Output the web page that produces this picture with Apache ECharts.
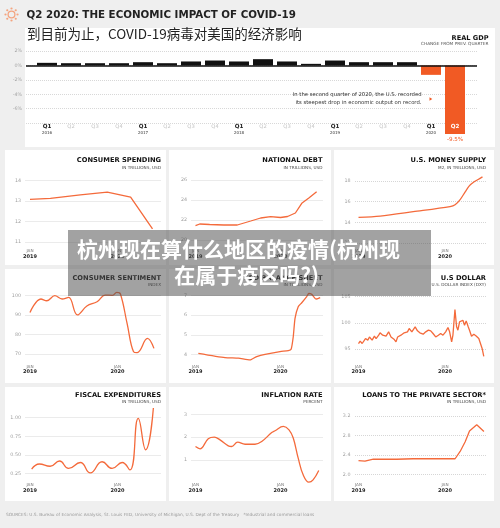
<!DOCTYPE html>
<html><head><meta charset="utf-8">
<script src="https://cdn.jsdelivr.net/npm/echarts@6/dist/echarts.min.js"></script>
<style>html,body{margin:0;padding:0;background:#efefef}#c{width:500px;height:528px}</style>
</head><body><div id="c"></div>
<script>
// ---------------- DATA ----------------
const gdpQuarters = ['Q1','Q2','Q3','Q4','Q1','Q2','Q3','Q4','Q1','Q2','Q3','Q4','Q1','Q2','Q3','Q4','Q1','Q2'];
const gdpYears    = ['2016','','','','2017','','','','2018','','','','2019','','','','2020',''];
const gdpChange   = [0.37,0.32,0.32,0.32,0.46,0.32,0.56,0.69,0.56,0.88,0.56,0.23,0.69,0.46,0.46,0.46,-1.3,-9.5];

// x = months since Jan 2019
const spendingData = [[0,13.08],[2.8,13.13],[6.9,13.3],[10.6,13.43],[13.8,13.19],[16.8,11.64]];
const debtData = [[0,21.43],[0.6,21.6],[2,21.55],[4,21.5],[5.9,21.5],[7.8,21.9],[9.2,22.2],[10.6,22.33],[12,22.25],[13,22.35],[14.1,22.7],[15,23.67],[16,24.2],[17.1,24.83]];
const moneyData = [[0,14.48],[3,14.61],[7.6,15.03],[12.7,15.52],[13.4,15.7],[14.1,16.2],[14.8,16.95],[15.4,17.55],[16.0,17.9],[16.6,18.15],[17.2,18.4]];
const sentimentData = [[0,91.4],[1.5,98.3],[2.3,97.4],[3.4,100],[4.4,98.3],[5.3,99.1],[6.5,90.1],[7.8,94.7],[9.2,96.9],[10.3,100.3],[11.3,100.2],[11.9,101.7],[12.4,100.9],[13.3,86],[14.2,71.2],[14.7,70.7],[16.1,78],[17,72.9]];
const fedData = [[0.4,4.05],[4.17,3.83],[6.05,3.8],[7.7,3.71],[8.0,3.76],[8.64,3.88],[9.82,4.0],[11.93,4.14],[13.1,4.19],[13.5,4.26],[13.8,4.9],[14.05,5.84],[14.5,6.44],[15.0,6.64],[15.7,6.95],[16.0,7.12],[16.4,7.07],[16.9,6.85],[17.1,6.83],[17.6,6.9]];
const dollarData = [[0,96.05],[0.23,96.5],[0.51,96.05],[0.74,96.37],[0.97,97.0],[1.29,96.7],[1.52,97.3],[1.89,96.7],[2.21,97.45],[2.44,97.0],[2.8,97.64],[2.99,98.09],[3.36,97.64],[3.59,97.96],[3.82,97.45],[4.18,98.28],[4.51,97.3],[4.74,97.64],[4.97,96.8],[5.2,96.37],[5.43,97.3],[5.89,97.64],[6.34,98.09],[6.8,98.28],[7.03,98.92],[7.4,98.28],[7.86,99.24],[8.18,98.47],[8.51,98.09],[8.97,97.83],[9.33,98.28],[9.7,98.6],[10.02,98.47],[10.34,97.96],[10.71,97.3],[11.08,97.64],[11.4,97.96],[11.72,97.64],[12.09,98.28],[12.41,99.1],[12.64,98.28],[12.92,96.37],[13.1,97.64],[13.38,102.55],[13.61,99.24],[13.79,98.6],[14.02,100.19],[14.25,99.87],[14.48,100.5],[14.71,99.55],[14.94,100.38],[15.22,99.24],[15.4,98.6],[15.68,97.45],[16.0,97.83],[16.32,97.5],[16.69,97.0],[16.92,96.05],[17.15,95.1],[17.38,93.6]];
const fiscalData = [[0.23,0.31],[1.29,0.38],[2.76,0.35],[4.05,0.42],[5.29,0.32],[6.9,0.40],[8.28,0.26],[9.89,0.41],[11.26,0.32],[12.64,0.40],[13.7,0.30],[14.85,0.99],[15.86,0.57],[16.92,1.13]];
const inflationData = [[0,1.59],[0.64,1.49],[1.8,1.93],[2.66,2.0],[3.46,1.88],[4.63,1.62],[5.1,1.59],[5.95,1.78],[7.0,1.69],[8.4,1.69],[9.35,1.81],[10.76,2.2],[11.23,2.28],[12.4,2.47],[13.2,2.32],[13.8,1.96],[14.5,1.08],[15.2,0.35],[16.0,0.03],[16.6,0.13],[17.4,0.54]];
const loansData = [[0,2.28],[0.9,2.27],[2.05,2.31],[5.3,2.31],[7.6,2.32],[9.9,2.32],[13.4,2.32],[14.1,2.47],[14.8,2.67],[15.4,2.89],[16.4,3.02],[17.4,2.88]];

const panelTitles = ['CONSUMER SPENDING','NATIONAL DEBT','U.S. MONEY SUPPLY','CONSUMER SENTIMENT','FED BALANCE SHEET','U.S DOLLAR','FISCAL EXPENDITURES','INFLATION RATE','LOANS TO THE PRIVATE SECTOR*'];
const panelSubtitles = ['IN TRILLIONS, USD','IN TRILLIONS, USD','M2, IN TRILLIONS, USD','INDEX','IN TRILLIONS, USD','U.S. DOLLAR INDEX (DXY)','IN TRILLIONS, USD','PERCENT','IN TRILLIONS, USD'];
const panelSeries = [spendingData,debtData,moneyData,sentimentData,fedData,dollarData,fiscalData,inflationData,loansData];
const panelYMin = [11,20,12,70,4,95,0.25,1,2.0];
const panelYMax = [14,26,18,100,7,105,1.0,3,3.2];
const panelYStep = [1,2,2,10,1,5,0.25,1,0.4];
const panelDecimals = [0,0,0,0,0,0,2,0,1];
const janLabels = ['2019','2020'];

// ---------------- LAYOUT ----------------
const FONT = 'DejaVu Sans';
const LINE = '#f46a3b', BAR_NEG = '#f15a24';
const cols = [
  {left:5,   right:166, gl:25.5,  gr:161,   x0:30,    x12:117.5},
  {left:169, right:331, gl:191.5, gr:322.5, x0:195.5, x12:280.5},
  {left:334, right:494, gl:355,   gr:486,   x0:358.5, x12:445}
];
const rows = [
  {top:150, bottom:265, titleY:160.5, subY:167.5, janY:251},
  {top:269, bottom:383, titleY:278.5, subY:285,   janY:366.7},
  {top:387, bottom:501, titleY:395.5, subY:401.5, janY:485}
];
const yPx = [[180.5,242],[180,240],[181,243],[295.7,354],[295.7,354.3],[296.7,349],[417.7,473.7],[414.3,460],[416,474.3]];
const smoothness = [false,false,0.3,0.4,0.2,false,0.5,0.4,false];

const graphics = [];
function txt(x,y,text,size,o){o=o||{};graphics.push({type:'text',z:o.z||5,silent:true,style:{x:x,y:y,text:text,fontSize:size,fontFamily:o.family||FONT,fontWeight:o.weight||'normal',fill:o.color||'#222',align:o.align||'left',verticalAlign:'middle'}});}
function rect(x,y,w,h,fill,z){graphics.push({type:'rect',z:z,silent:true,shape:{x:x,y:y,width:w,height:h},style:{fill:fill}});}

// header
txt(26.5,15,'Q2 2020: THE ECONOMIC IMPACT OF COVID-19',10.3,{weight:'bold',color:'#222'});
rect(25,28,470,119,'#ffffff',-10);
txt(27,33.5,'到目前为止，COVID-19病毒对美国的经济影响',13.5,{family:'Noto Sans CJK SC',color:'#222',z:6});
// icon
graphics.push({type:'circle',z:5,silent:true,shape:{cx:11.5,cy:14.5,r:3.4},style:{fill:'none',stroke:'#f4a47f',lineWidth:1.3}});
for(let k=0;k<8;k++){const a=k*Math.PI/4;graphics.push({type:'circle',z:5,silent:true,shape:{cx:11.5+6*Math.cos(a),cy:14.5+6*Math.sin(a),r:1.1},style:{fill:'#f4a47f'}});}
txt(488.5,38.3,'REAL GDP',6.6,{weight:'bold',align:'right',color:'#111'});
txt(488.5,44.3,'CHANGE FROM PREV. QUARTER',4.3,{align:'right',color:'#555'});
txt(421.5,95,'In the second quarter of 2020, the U.S. recorded',5.3,{align:'right',color:'#333'});
txt(421.5,103,'its steepest drop in economic output on record.',5.3,{align:'right',color:'#333'});
graphics.push({type:'polygon',z:5,silent:true,shape:{points:[[429.5,97.3],[432.3,99],[429.5,100.7]]},style:{fill:BAR_NEG}});
txt(6,515,'SOURCES: U.S. Bureau of Economic Analysis, St. Louis FED, University of Michigan, U.S. Dept of the Treasury   *Industrial and commercial loans',4.3,{color:'#9a9a9a'});

const grids=[], xAxes=[], yAxes=[], series=[];

// GDP chart
const gdpPpu = 24, gdpX0 = 47, gdpLeft = 26, gdpRight = 477;
const gdpZeroY = 65.5, gdpPxPct = 7.2;
grids.push({left:gdpLeft, width:gdpRight-gdpLeft, top:gdpZeroY-2*gdpPxPct, height:12*gdpPxPct});
xAxes.push({gridIndex:0,type:'value',z:10,min:(gdpLeft-gdpX0)/gdpPpu,max:(gdpRight-gdpX0)/gdpPpu,
  axisLine:{show:false},axisTick:{show:false},splitLine:{show:false},
  axisLabel:{customValues:gdpQuarters.map((_,i)=>i),margin:-13.5,
    formatter:function(v){const i=Math.round(v);const q=gdpQuarters[i],yr=gdpYears[i];
      if(i===gdpQuarters.length-1) return '{w|'+q+'}';
      if(yr) return '{q|'+q+'}\n{yr|'+yr+'}';
      return '{g|'+q+'}';},
    rich:{q:{fontSize:5.6,fontWeight:'bold',color:'#222',lineHeight:6,fontFamily:FONT},
          yr:{fontSize:4,color:'#333',lineHeight:5,fontFamily:FONT},
          g:{fontSize:5.2,color:'#c4c4c4',lineHeight:6,fontFamily:FONT},
          w:{fontSize:5.6,fontWeight:'bold',color:'#ffffff',lineHeight:6,fontFamily:FONT}}}});
yAxes.push({gridIndex:0,type:'value',min:-10,max:2,interval:2,
  axisLine:{show:false},axisTick:{show:false},
  axisLabel:{fontSize:4.8,color:'#a5a5a5',margin:4,fontFamily:FONT,formatter:v=>v<-7?'':v+'%'},
  splitLine:{lineStyle:{type:'dotted',width:1,color:['rgba(0,0,0,0)','#d8d8d8','#d8d8d8','#d8d8d8','#d8d8d8','#d8d8d8','#d8d8d8']}}});
series.push({type:'bar',xAxisIndex:0,yAxisIndex:0,barWidth:20,
  data:gdpChange.map((v,i)=>[i,v]),
  itemStyle:{color:p=>p.value[1]<0?BAR_NEG:'#111'},
  label:{show:true,position:'bottom',distance:2.5,fontSize:5.6,color:BAR_NEG,fontFamily:FONT,
    formatter:p=>p.dataIndex===gdpChange.length-1?p.value[1]+'%':''},
  markLine:{silent:true,symbol:['none','none'],label:{show:false},lineStyle:{color:'#111',width:1.5,type:'solid'},data:[{yAxis:0}]}});

// small multiples
for(let i=0;i<9;i++){
  const c=cols[i%3], r=rows[Math.floor(i/3)], gi=i+1;
  rect(c.left,r.top,c.right-c.left,r.bottom-r.top,'#ffffff',-10);
  txt(c.gr,r.titleY,panelTitles[i],6.7,{weight:'bold',align:'right',color:'#111'});
  txt(c.gr,r.subY,panelSubtitles[i],4.2,{align:'right',color:'#444'});
  const ppm=(c.x12-c.x0)/12;
  const top=yPx[i][0], bot=yPx[i][1];
  grids.push({left:c.gl,width:c.gr-c.gl,top:top,height:bot-top});
  xAxes.push({gridIndex:gi,type:'value',min:(c.gl-c.x0)/ppm,max:(c.gr-c.x0)/ppm,
    axisLine:{show:false},axisTick:{show:false},splitLine:{show:false},
    axisLabel:{customValues:[0,12],margin:r.janY-2.5-bot,
      formatter:v=>'{m|JAN}\n{y|'+(v<6?janLabels[0]:janLabels[1])+'}',
      rich:{m:{fontSize:4.2,color:'#777',lineHeight:5,fontFamily:FONT},
            y:{fontSize:5,fontWeight:'bold',color:'#222',lineHeight:6,fontFamily:FONT}}}});
  const dec=panelDecimals[i];
  yAxes.push({gridIndex:gi,type:'value',min:panelYMin[i],max:panelYMax[i],interval:panelYStep[i],
    axisLine:{show:false},axisTick:{show:false},
    axisLabel:{fontSize:4.8,color:'#a0a0a0',margin:4.5,fontFamily:FONT,formatter:v=>v.toFixed(dec)},
    splitLine:{lineStyle:{type:'dotted',width:1,color:'#d6d6d6'}}});
  series.push({type:'line',xAxisIndex:gi,yAxisIndex:gi,data:panelSeries[i],showSymbol:false,clip:false,
    smooth:smoothness[i],lineStyle:{color:LINE,width:1.3},itemStyle:{color:LINE}});
}

// overlay
rect(68,230,363,66,'rgba(80,80,80,0.53)',100);
txt(238.5,249,'杭州现在算什么地区的疫情(杭州现',21,{family:'Noto Sans CJK SC',weight:'bold',color:'#ffffff',align:'center',z:101});
txt(246.5,275.5,'在属于疫区吗?)',21,{family:'Noto Sans CJK SC',weight:'bold',color:'#ffffff',align:'center',z:101});

const chart = echarts.init(document.getElementById('c'), null, {renderer:'canvas',width:500,height:528});
chart.setOption({animation:false,backgroundColor:'#efefef',grid:grids,xAxis:xAxes,yAxis:yAxes,series:series,graphic:{elements:graphics}});
</script></body></html>
